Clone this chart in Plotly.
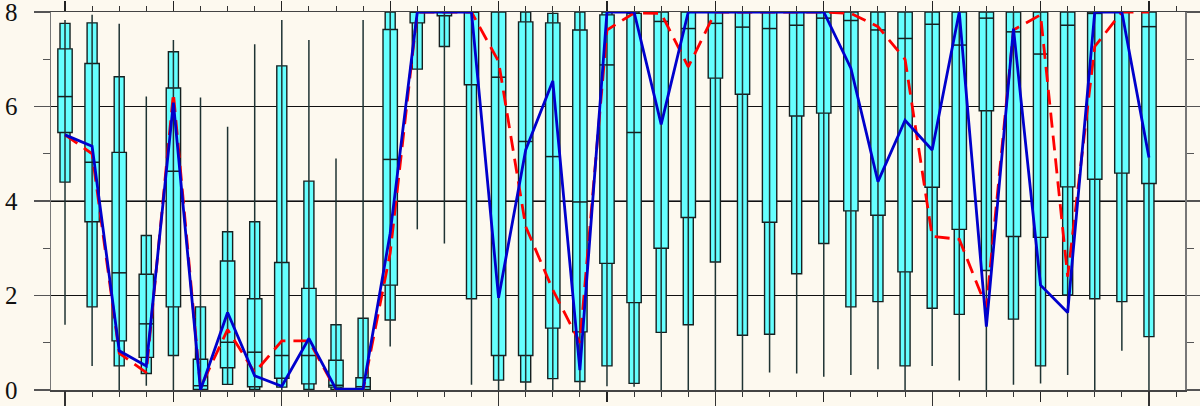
import plotly.graph_objects as go

# ---- data ----
bins = list(range(41))
whisker_lo = [1.38, 0.51, 0.00, 0.09, 0.00, 0.00, 0.12, 0.00, 0.00, 0.00, 0.00, 0.00, 0.92, 3.40, 3.10, 0.11,
              0.00, 0.00, 0.00, 0.00, 0.08, 0.07, 0.00, 0.00, 0.00, 0.00, 0.37, 0.35, 0.28, 0.32, 0.44, 0.00,
              0.51, 0.20, 0.00, 0.11, 0.14, 0.32, 0.00, 0.83, 0.00]
whisker_hi = [7.83, 7.94, 7.75, 6.21, 7.41, 6.19, 5.57, 7.32, 7.83, 7.41, 4.90, 7.83, 8.00, 8.00, 8.00, 8.00,
              8.00, 8.00, 8.00, 8.00, 8.00, 8.00, 8.00, 8.00, 8.00, 8.00, 8.00, 8.00, 8.00, 8.00, 8.00, 8.00,
              8.00, 8.00, 8.00, 8.00, 8.00, 8.00, 8.00, 8.00, 8.00]
outer_lo = [4.40, 1.76, 0.51, 0.35, 0.73, 0.00, 0.12, 0.01, 0.06, 0.01, 0.01, 0.00, 1.48, 6.79, 7.27, 1.93,
            0.21, 0.17, 0.24, 0.18, 0.51, 0.14, 1.22, 1.38, 2.71, 1.16, 1.18, 2.46, 3.10, 1.76, 1.87, 0.51,
            1.73, 1.60, 2.53, 1.50, 0.51, 2.01, 1.93, 1.87, 1.13]
outer_hi = [7.76, 7.77, 6.63, 3.27, 7.16, 1.76, 3.35, 3.56, 6.86, 4.42, 1.38, 1.52, 8.00, 8.00, 8.00, 8.00,
            8.00, 8.00, 7.97, 8.00, 8.00, 8.00, 8.00, 8.00, 8.00, 8.00, 8.00, 8.00, 8.00, 8.00, 8.00, 8.00,
            8.00, 8.00, 8.00, 8.00, 8.00, 8.00, 8.00, 8.00, 8.00]
q1 = [5.45, 3.56, 1.04, 0.69, 1.76, 0.01, 0.47, 0.07, 0.25, 0.13, 0.06, 0.01, 2.22, 7.77, 7.92, 6.46,
      0.73, 0.73, 1.31, 1.23, 2.68, 1.85, 3.00, 3.65, 6.60, 6.26, 3.55, 5.80, 5.86, 3.79, 3.70, 2.50,
      4.29, 3.40, 5.91, 3.25, 3.23, 4.30, 4.46, 4.59, 4.37]
q3 = [7.22, 6.91, 5.03, 2.45, 6.39, 0.65, 2.73, 1.93, 2.70, 2.15, 0.63, 0.26, 7.63, 8.00, 8.00, 8.00,
      8.00, 7.79, 7.77, 7.62, 7.94, 7.97, 8.00, 8.00, 8.00, 8.00, 8.00, 8.00, 8.00, 8.00, 8.00, 8.00,
      8.00, 8.00, 8.00, 8.00, 8.00, 8.00, 8.00, 8.00, 8.00]
median = [6.21, 4.82, 2.48, 1.40, 4.63, 0.09, 1.01, 0.80, 0.73, 0.73, 0.10, 0.07, 4.88, 8.00, 8.00, 8.00,
          6.62, 5.26, 4.94, 3.98, 6.88, 5.45, 7.80, 7.65, 7.76, 7.68, 7.65, 7.72, 7.87, 7.82, 7.62, 7.44,
          7.74, 7.30, 7.87, 7.58, 7.11, 7.72, 7.97, 8.00, 7.69]
red_series = [5.40, 5.00, 0.78, 0.37, 6.28, 0.05, 1.28, 0.37, 1.04, 1.04, 0.00, 0.00, 2.90, 8.00, 8.00, 8.00,
              6.95, 3.46, 2.12, 1.00, 7.62, 7.98, 7.97, 6.84, 8.00, 8.00, 8.00, 8.00, 8.00, 7.97, 7.69, 7.00,
              3.25, 3.19, 1.75, 7.62, 7.94, 2.40, 7.27, 8.00, 8.00]
blue_series = [5.40, 5.16, 0.83, 0.51, 6.08, 0.00, 1.64, 0.30, 0.08, 1.09, 0.02, 0.02, 3.32, 8.00, 8.00, 8.00,
               1.95, 5.08, 6.54, 0.42, 8.00, 8.00, 5.62, 8.00, 8.00, 8.00, 8.00, 8.00, 8.00, 6.81, 4.41, 5.71,
               5.08, 8.00, 1.34, 7.65, 2.22, 1.64, 8.00, 8.00, 4.92]
y_ticks = [0, 2, 4, 6, 8]

# ---- styles ----
BG = "#fdf9ef"
FILL = "#66ffff"
EDGE = "#162020"
WHISK = "#1f3333"
FONT = "Liberation Serif"
WIDE_W = 0.53
THIN_W = 0.37

fig = go.Figure()

# whiskers
wx, wy = [], []
for b, lo, hi in zip(bins, whisker_lo, whisker_hi):
    wx += [b, b, None]
    wy += [lo, hi, None]
fig.add_trace(go.Scatter(x=wx, y=wy, mode="lines", line=dict(color=WHISK, width=1.5),
                         hoverinfo="skip", showlegend=False))

# thin (outer) boxes
fig.add_trace(go.Bar(x=bins, base=outer_lo, y=[h - l for l, h in zip(outer_lo, outer_hi)],
                     width=THIN_W, marker=dict(color=FILL, line=dict(color=EDGE, width=1.4)),
                     showlegend=False))
# wide (inner) boxes
fig.add_trace(go.Bar(x=bins, base=q1, y=[h - l for l, h in zip(q1, q3)],
                     width=WIDE_W, marker=dict(color=FILL, line=dict(color=EDGE, width=1.4)),
                     showlegend=False))

# medians
mx, my = [], []
for b, m in zip(bins, median):
    mx += [b - WIDE_W / 2, b + WIDE_W / 2, None]
    my += [m, m, None]
fig.add_trace(go.Scatter(x=mx, y=my, mode="lines", line=dict(color=EDGE, width=1.5),
                         hoverinfo="skip", showlegend=False))

# red dashed and blue solid lines
fig.add_trace(go.Scatter(x=bins, y=red_series, mode="lines",
                         line=dict(color="#ff0000", width=2.8, dash="15px,8px"), showlegend=False))
fig.add_trace(go.Scatter(x=bins, y=blue_series, mode="lines",
                         line=dict(color="#0000cc", width=2.8), showlegend=False))

# hidden trace for the long-tick overlay axis
fig.add_trace(go.Scatter(x=[None], y=[None], xaxis="x2", showlegend=False, hoverinfo="skip"))

# grey line at y=4
fig.add_shape(type="line", xref="paper", yref="y", x0=0, x1=1, y0=4, y1=4,
              line=dict(color="#6e6e6e", width=2), layer="below")

xr = [-0.517, 41.33]
fig.update_layout(
    width=1200, height=406,
    margin=dict(l=51, r=15, t=12, b=16, autoexpand=False),
    paper_bgcolor=BG, plot_bgcolor=BG,
    barmode="overlay", bargap=0,
    showlegend=False,
    xaxis=dict(range=xr, showgrid=False, zeroline=False, showticklabels=False, automargin=False,
               showline=True, linecolor="#444444", linewidth=1.5, mirror="ticks",
               ticks="outside", tickmode="linear", tick0=0, dtick=4, ticklen=10,
               tickcolor="#222222", tickwidth=1.2,
               minor=dict(ticks="outside", dtick=1, tick0=0, ticklen=5, tickcolor="#333333",
                          tickwidth=1, showgrid=False)),
    xaxis2=dict(range=xr, overlaying="x", side="bottom", showgrid=False, zeroline=False,
                showticklabels=False, showline=False, ticks="outside", tickmode="linear",
                automargin=False, tick0=0, dtick=8, ticklen=15, tickcolor="#333333", tickwidth=1.2),
    yaxis=dict(range=[0, 8], tickvals=y_ticks, ticktext=[str(v) for v in y_ticks],
               showgrid=True, gridcolor="#111111", gridwidth=1, zeroline=False, automargin=False,
               showline=True, linecolor="#777777", linewidth=1.5, mirror="ticks",
               ticks="outside", ticklen=16, tickcolor="#555555", tickwidth=1.5,
               ticklabelstandoff=11, ticklabeloverflow="allow",
               tickfont=dict(family=FONT, size=25, color="#111111"),
               minor=dict(ticks="outside", tickvals=[1, 3, 5, 7], ticklen=7,
                          tickcolor="#555555", tickwidth=1.2, showgrid=False)),
)

fig.write_html("out.html", config={"displayModeBar": False, "staticPlot": True},
               post_script="document.body.style.margin='0';document.body.style.overflow='hidden';")
